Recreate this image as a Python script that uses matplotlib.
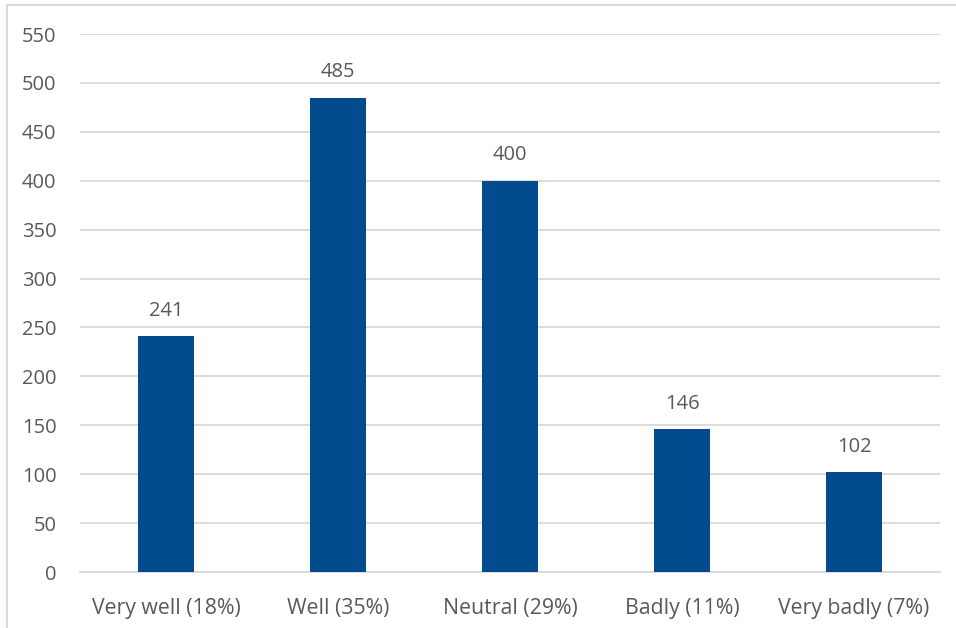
import matplotlib
matplotlib.use("Agg")
import matplotlib.pyplot as plt
from matplotlib.lines import Line2D

categories = ["Very well (18%)", "Well (35%)", "Neutral (29%)", "Badly (11%)", "Very badly (7%)"]
values = [241, 485, 400, 146, 102]
yticks = list(range(0, 551, 50))

plt.rcParams['font.family'] = ['Open Sans', 'DejaVu Sans']
W, H = 956, 628
fig = plt.figure(figsize=(W/100, H/100), dpi=100)
ax = fig.add_axes([80/W, 1-572/H, 860/W, (572-34)/H])

text_color = '#595959'
grid_color = '#D9D9D9'
bar_color = '#024B8E'
fs = 14.5

x = list(range(len(categories)))
bars = ax.bar(x, values, width=0.32, color=bar_color, zorder=3)
ax.set_xlim(-0.5, len(categories)-0.5)
ax.set_ylim(0, 550)
ax.set_yticks(yticks)
ax.set_yticklabels([str(t) for t in yticks], fontsize=fs, color=text_color)
ax.set_xticks(x)
ax.set_xticklabels(categories, fontsize=15.3, color=text_color)
ax.tick_params(axis='both', length=0)
ax.tick_params(axis='y', pad=17)
ax.tick_params(axis='x', pad=19)
ax.yaxis.grid(True, color=grid_color, linewidth=1.3, zorder=0)
ax.set_axisbelow(True)
for s in ['top', 'right', 'left']:
    ax.spines[s].set_visible(False)
ax.spines['bottom'].set_color(grid_color)
ax.spines['bottom'].set_linewidth(1.3)

for xi, v in zip(x, values):
    ax.annotate(str(v), (xi, v), xytext=(0, 11), textcoords='offset points',
                ha='center', va='bottom', fontsize=fs, color=text_color)

# outer frame (left and top edges visible)
fig.add_artist(Line2D([7/W, 7/W], [0, 1-5/H], transform=fig.transFigure, color=grid_color, linewidth=1.5))
fig.add_artist(Line2D([7/W, 1], [1-5/H, 1-5/H], transform=fig.transFigure, color=grid_color, linewidth=1.5))

fig.savefig("out.png", dpi=100, facecolor='white')
